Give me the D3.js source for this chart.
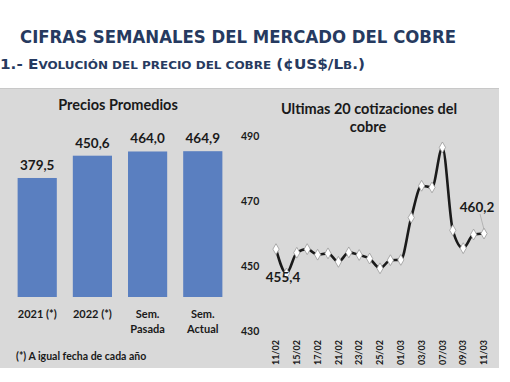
<!DOCTYPE html>
<html>
<head>
<meta charset="utf-8">
<script src="https://cdn.jsdelivr.net/npm/d3@7"></script>
<style>
  body { margin: 0; background: #fff; }
  svg { display: block; }
  .lbl { font-family: Lato, "Open Sans", sans-serif; font-weight: bold; fill: #1a1a1a; }
</style>
</head>
<body>
<div id="chart"></div>
<script>
// left: average prices
const barCats = ['2021 (*)', '2022 (*)', 'Sem. Pasada', 'Sem. Actual'];
const barLines = [['2021 (*)'], ['2022 (*)'], ['Sem.', 'Pasada'], ['Sem.', 'Actual']];
const barValues = [379.5, 450.6, 464.0, 464.9];

// right: last quotations
const dates = ['11/02', '14/02', '15/02', '16/02', '17/02', '18/02', '21/02', '22/02', '23/02', '24/02', '25/02',
  '28/02', '01/03', '02/03', '03/03', '04/03', '07/03', '08/03', '09/03', '10/03', '11/03'];
const prices = [455.4, 447.9, 454.3, 455.4, 453.7, 454.1, 451.5, 454.4, 453.6, 452.5, 449.5,
  452.0, 452.1, 465.1, 474.9, 474.4, 486.7, 461.2, 455.7, 459.9, 460.2];
const yTicks = [430, 450, 470, 490];

// subtitle pieces: [text, small-cap?]
const subParts = [['1.- E', false], ['VOLUCIÓN DEL PRECIO DEL COBRE', true], [' (¢US$/L', false], ['B', true], ['.)', false]];

const fmt = v => d3.format('.1f')(v).replace('.', ',');

const W = 510, H = 382;
const svg = d3.select('#chart').append('svg').attr('width', W).attr('height', H);

// header
svg.append('text')
  .attr('x', 20).attr('y', 43)
  .attr('font-family', 'Verdana, "DejaVu Sans", sans-serif')
  .attr('font-weight', 'bold').attr('font-size', 17.5)
  .attr('fill', '#263a60')
  .attr('textLength', 436).attr('lengthAdjust', 'spacingAndGlyphs')
  .text('CIFRAS SEMANALES DEL MERCADO DEL COBRE');

svg.append('text')
  .attr('x', 0).attr('y', 69)
  .attr('font-family', 'Verdana, "DejaVu Sans", sans-serif')
  .attr('font-weight', 'bold')
  .attr('fill', '#263a60')
  .attr('textLength', 365).attr('lengthAdjust', 'spacingAndGlyphs')
  .selectAll('tspan').data(subParts).join('tspan')
  .attr('font-size', d => d[1] ? 11 : 14)
  .text(d => d[0]);

// panel background
svg.append('rect').attr('x', 0).attr('y', 88).attr('width', 499).attr('height', 280).attr('fill', '#d9d9d9');
svg.append('line').attr('x1', 0).attr('x2', 499).attr('y1', 88.5).attr('y2', 88.5).attr('stroke', '#c8c8c8');

// ---- bar chart ----
const x1 = d3.scaleBand().domain(barCats).range([11, 229]).paddingInner(0.29).paddingOuter(0.12);
const y1 = d3.scaleLinear().domain([0, 500]).range([297, 140.2]);

const g1 = svg.append('g');
g1.append('text').attr('class', 'lbl').attr('x', 118).attr('y', 110)
  .attr('text-anchor', 'middle').attr('font-size', 14.5).text('Precios Promedios');

g1.selectAll('rect.bar').data(barValues).join('rect').attr('class', 'bar')
  .attr('x', (d, i) => x1(barCats[i])).attr('width', x1.bandwidth())
  .attr('y', d => y1(d)).attr('height', d => y1(0) - y1(d))
  .attr('fill', '#5a7fc0');

g1.selectAll('text.val').data(barValues).join('text').attr('class', 'lbl val')
  .attr('x', (d, i) => x1(barCats[i]) + x1.bandwidth() / 2)
  .attr('y', d => y1(d) - 8)
  .attr('text-anchor', 'middle').attr('font-size', 13.5)
  .text(d => fmt(d));

const cat = g1.selectAll('text.cat').data(barLines).join('text').attr('class', 'lbl cat')
  .attr('text-anchor', 'middle').attr('font-size', 11);
cat.selectAll('tspan').data((d, i) => d.map(s => ({ s, i }))).join('tspan')
  .attr('x', d => x1(barCats[d.i]) + x1.bandwidth() / 2)
  .attr('y', (d, j) => 318 + j * 14.5)
  .text(d => d.s);

g1.append('text').attr('class', 'lbl').attr('x', 16).attr('y', 360)
  .attr('font-size', 10.5).text('(*) A igual fecha de cada año');

// ---- line chart ----
const x2 = d3.scalePoint().domain(dates).range([276, 484]);
const y2 = d3.scaleLinear().domain([430, 490]).range([331.7, 136.7]);

const g2 = svg.append('g');
g2.append('text').attr('class', 'lbl').attr('x', 369).attr('y', 114)
  .attr('text-anchor', 'middle').attr('font-size', 14.5).text('Ultimas 20 cotizaciones del');
g2.append('text').attr('class', 'lbl').attr('x', 368).attr('y', 131.5)
  .attr('text-anchor', 'middle').attr('font-size', 14.5).text('cobre');

g2.selectAll('text.yt').data(yTicks).join('text').attr('class', 'lbl yt')
  .attr('x', 241).attr('y', d => y2(d)).attr('dy', '0.35em')
  .attr('font-size', 10.5).text(d => d);

g2.selectAll('text.xt').data(dates.filter((d, i) => i % 2 === 0)).join('text').attr('class', 'lbl xt')
  .attr('transform', d => `translate(${x2(d)},340) rotate(-90)`)
  .attr('dy', '0.35em').attr('text-anchor', 'end')
  .attr('font-size', 9).text(d => d);

const line = d3.line().x((d, i) => x2(dates[i])).y(d => y2(d)).curve(d3.curveMonotoneX);
g2.append('path').datum(prices).attr('d', line)
  .attr('fill', 'none').attr('stroke', '#1a1a1a').attr('stroke-width', 2.6);

g2.selectAll('path.pt').data(prices).join('path').attr('class', 'pt')
  .attr('d', d3.symbol(d3.symbolDiamond, 34))
  .attr('transform', (d, i) => `translate(${x2(dates[i])},${y2(d)})`)
  .attr('fill', '#fff').attr('stroke', '#999').attr('stroke-width', 0.8);

// data labels
const last = prices.length - 1;
g2.append('line')
  .attr('x1', 480).attr('y1', 214).attr('x2', x2(dates[last])).attr('y2', y2(prices[last]) - 4)
  .attr('stroke', '#aaa').attr('stroke-width', 0.8);
g2.append('text').attr('class', 'lbl').attr('x', 477).attr('y', 212)
  .attr('text-anchor', 'middle').attr('font-size', 13.5).text(fmt(prices[last]));
g2.append('text').attr('class', 'lbl').attr('x', 283).attr('y', 282)
  .attr('text-anchor', 'middle').attr('font-size', 13.5).text(fmt(prices[0]));
</script>
</body>
</html>
